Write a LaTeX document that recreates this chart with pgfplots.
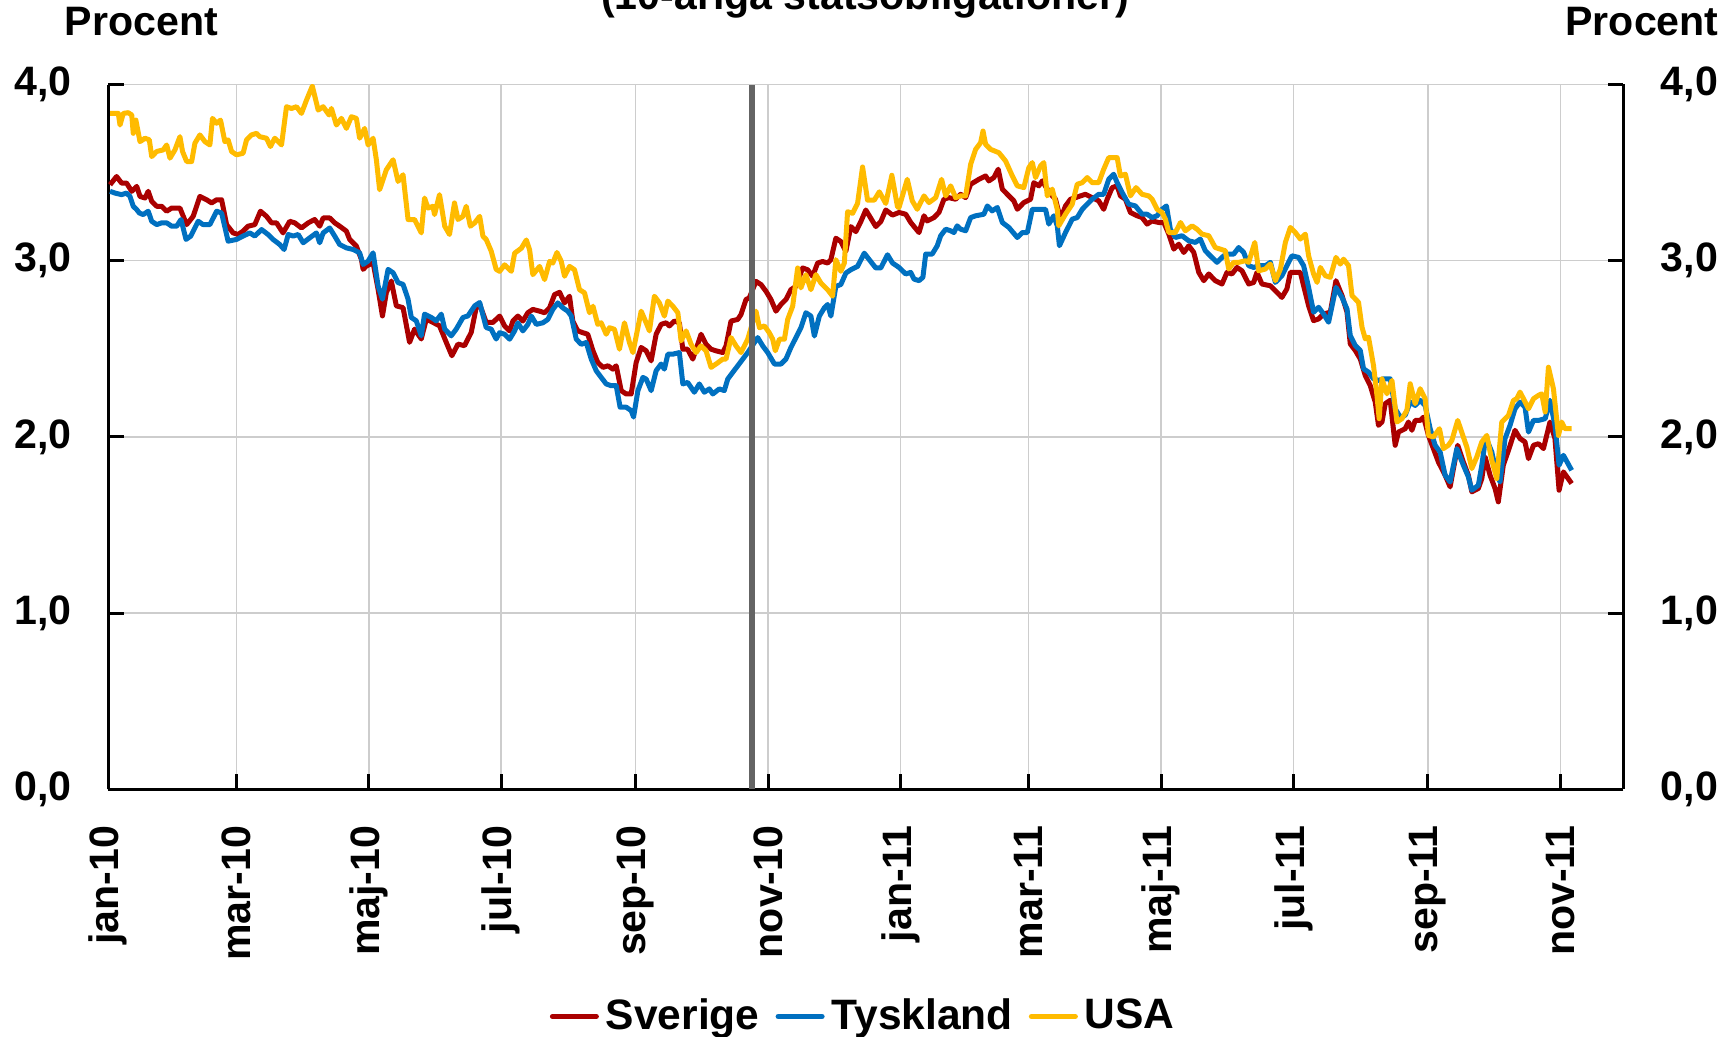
\documentclass[border=0pt]{standalone}
\usepackage{pgfplots}
\pgfplotsset{compat=1.18}
\usepackage{fontspec}
\setmainfont{Liberation Sans}
\definecolor{sred}{RGB}{170,0,0}
\definecolor{sblue}{RGB}{0,112,192}
\definecolor{syellow}{RGB}{255,187,0}
\definecolor{vgray}{RGB}{100,100,100}
\definecolor{gridc}{RGB}{205,205,205}
\newcommand{\cf}{\fontsize{11.7}{14}\selectfont\bfseries}
\newcommand{\lf}{\fontsize{12.1}{14}\selectfont\bfseries}
\begin{document}
\begin{tikzpicture}
\path[use as bounding box] (0,0) rectangle (173.5mm,103.7mm);
\node[font=\cf, anchor=base] at (86.5mm,102.7mm) {(10-åriga statsobligationer)};
\node[font=\cf, anchor=base] at (14.15mm,100.1mm) {Procent};
\node[font=\cf, anchor=base] at (164.2mm,100.1mm) {Procent};
\begin{axis}[
  at={(10.83mm,24.75mm)}, anchor=south west,
  scale only axis, width=151.5mm, height=70.5mm,
  xmin=0, xmax=698, ymin=0, ymax=4,
  axis x line*=bottom, axis y line*=left,
  axis line style={line width=0.3mm, black},
  tick align=inside,
  major tick length=1.55mm,
  every tick/.style={black, line width=0.3mm},
  grid=major,
  major grid style={gridc, line width=0.15mm},
  xtick={0,59,120,181,243,304,365,424,485,546,608,669},
  xticklabels={jan-10,mar-10,maj-10,jul-10,sep-10,nov-10,jan-11,mar-11,maj-11,jul-11,sep-11,nov-11},
  xticklabel style={font=\cf, rotate=90, anchor=east, inner sep=0pt, xshift=-3.55mm},
  ytick={0,1,2,3,4},
  yticklabels={{0,0},{1,0},{2,0},{3,0},{4,0}},
  yticklabel style={font=\cf, anchor=east, inner sep=0pt, xshift=-3.6mm},
  legend style={draw=none, fill=none, at={(axis description cs:0.5,-0.322)}, anchor=center, font=\lf,
    /tikz/every even column/.append style={column sep=0.9mm}},
  legend columns=-1,
  legend image code/.code={\draw[line width=0.5mm, line cap=round] (0.25mm,0mm) -- (4.65mm,0mm);},
  every axis plot/.append style={line width=0.5mm, line join=round},
]
\addplot[sred] coordinates {
(0.8,3.431)(3.8,3.478)(6.1,3.441)(8.4,3.441)(10.8,3.394)(13.1,3.422)(14.6,3.365)(16.9,3.356)(18.4,3.394)(20.0,3.337)(22.3,3.309)(24.6,3.309)(26.9,3.281)(29.2,3.299)(33.0,3.299)(36.1,3.205)(39.1,3.252)(42.2,3.365)(45.3,3.346)(47.6,3.328)(49.9,3.346)(52.2,3.346)(54.5,3.205)(57.5,3.158)(59.8,3.149)(62.1,3.168)(64.4,3.196)(67.5,3.205)(70.1,3.281)(72.9,3.252)(75.2,3.215)(77.5,3.215)(80.5,3.158)(83.6,3.224)(85.9,3.215)(89.0,3.186)(92.1,3.215)(95.1,3.234)(97.4,3.196)(99.0,3.243)(102.0,3.243)(104.3,3.215)(106.6,3.196)(109.7,3.168)(111.2,3.121)(114.3,3.083)(116.6,3.008)(117.4,2.951)(118.9,2.970)(122.0,2.989)(124.3,2.838)(126.3,2.687)(128.1,2.819)(130.4,2.885)(132.7,2.744)(135.8,2.734)(138.8,2.537)(141.1,2.612)(144.2,2.556)(146.5,2.669)(149.6,2.650)(152.6,2.631)(155.7,2.537)(158.3,2.461)(161.1,2.527)(164.1,2.518)(167.2,2.593)(169.5,2.734)(171.1,2.753)(174.1,2.650)(177.2,2.650)
(180.3,2.686)(182.6,2.630)(184.9,2.602)(186.4,2.658)(188.7,2.686)(191.0,2.658)(193.3,2.705)(195.6,2.724)(198.7,2.714)(201.0,2.705)(203.3,2.733)(205.6,2.808)(207.9,2.821)(210.2,2.761)(212.5,2.799)(214.0,2.658)(216.3,2.602)(218.6,2.592)(220.9,2.583)(223.3,2.489)(225.5,2.423)(227.9,2.395)(230.2,2.404)(232.5,2.385)(234.0,2.404)(236.3,2.263)(238.6,2.244)(240.9,2.244)(243.2,2.423)(245.5,2.508)(247.8,2.489)(250.1,2.432)(252.4,2.583)(254.7,2.639)(257.0,2.648)(258.5,2.630)(260.8,2.658)(263.1,2.648)(264.7,2.498)(266.9,2.498)(269.3,2.442)(273.1,2.583)(275.4,2.526)(277.7,2.498)(280.0,2.489)(283.1,2.479)(284.6,2.517)(286.9,2.658)(290.0,2.667)(291.5,2.695)(293.8,2.780)(295.3,2.789)(298.4,2.883)(300.7,2.865)(303.0,2.827)(305.3,2.780)(307.6,2.714)(309.9,2.752)(312.2,2.780)(314.5,2.836)(316.8,2.855)(319.9,2.959)(322.2,2.949)(324.5,2.912)(326.8,2.987)(329.1,2.996)(331.4,2.987)(332.9,3.006)(335.2,3.128)(337.5,3.109)(339.8,3.053)(342.1,3.194)(344.4,3.165)(346.7,3.222)(349.0,3.288)(351.3,3.241)(353.6,3.194)(355.9,3.222)(358.2,3.288)(361.3,3.259)
(364.3,3.274)(367.4,3.264)(369.7,3.217)(373.5,3.160)(375.8,3.255)(377.3,3.226)(380.4,3.245)(382.7,3.274)(385.0,3.349)(387.3,3.358)(390.4,3.349)(392.7,3.377)(395.0,3.358)(397.3,3.434)(401.1,3.462)(404.2,3.481)(405.7,3.453)(408.0,3.472)(410.0,3.519)(411.9,3.406)(414.9,3.368)(417.2,3.340)(418.8,3.292)(421.8,3.330)(424.9,3.349)(426.4,3.443)(428.7,3.425)(430.3,3.453)(432.6,3.406)(434.9,3.368)(436.4,3.349)(438.7,3.236)(441.0,3.311)(443.3,3.349)(445.6,3.358)(447.9,3.368)(450.2,3.377)(453.3,3.358)(456.3,3.340)(458.6,3.292)(460.2,3.349)(462.5,3.415)(464.8,3.425)(466.3,3.368)(468.6,3.349)(470.9,3.274)(474.0,3.255)(476.3,3.245)(478.6,3.208)(480.9,3.226)(483.9,3.217)(486.3,3.217)(488.6,3.151)(490.9,3.066)(493.2,3.094)(495.5,3.047)(497.8,3.085)(500.1,3.047)(502.4,2.934)(504.7,2.887)(507.0,2.925)(510.0,2.887)(513.1,2.868)(515.4,2.934)(517.7,2.925)(520.0,2.962)(522.3,2.943)
(525.4,2.868)(527.7,2.877)(529.2,2.934)(531.5,2.868)(535.4,2.858)(538.4,2.821)(540.7,2.792)(543.0,2.840)(544.6,2.934)(549.2,2.934)(550.7,2.858)(553.0,2.745)(555.3,2.660)(557.6,2.670)(559.9,2.698)(563.0,2.708)(565.6,2.887)(568.4,2.802)(570.7,2.708)(572.2,2.528)(574.5,2.491)(576.8,2.443)(579.1,2.349)(581.4,2.292)(583.7,2.198)(585.2,2.066)(586.8,2.085)(588.3,2.189)(590.6,2.208)(592.9,1.953)(594.4,2.028)(597.5,2.047)(599.0,2.085)(600.6,2.038)(602.1,2.094)(604.4,2.094)(606.0,2.113)(608.2,2.009)(610.5,1.934)(612.8,1.858)(615.9,1.783)(618.2,1.717)(621.7,1.953)(624.3,1.858)(626.6,1.783)(628.2,1.689)(631.2,1.708)(632.8,1.764)(634.3,1.887)(636.6,1.783)(638.9,1.708)(640.4,1.632)(642.7,1.840)(645.1,1.925)(648.1,2.038)(650.4,1.991)(652.7,1.972)(654.3,1.877)(656.6,1.953)(658.9,1.962)(661.2,1.934)(664.2,2.085)(666.5,1.991)(668.4,1.698)(670.4,1.802)(674.2,1.736)
};
\addlegendentry{Sverige}
\addplot[sblue] coordinates {
(0.8,3.394)(3.1,3.384)(6.1,3.375)(8.4,3.384)(10.0,3.365)(11.5,3.309)(13.1,3.290)(14.3,3.271)(16.1,3.262)(18.4,3.281)(20.0,3.224)(22.3,3.205)(24.6,3.215)(26.9,3.215)(29.2,3.196)(31.5,3.196)(33.5,3.234)(35.8,3.121)(38.0,3.140)(41.4,3.224)(43.7,3.205)(46.8,3.205)(49.9,3.281)(52.2,3.271)(55.2,3.111)(59.1,3.121)(62.1,3.140)(65.2,3.158)(67.5,3.140)(70.6,3.177)(73.6,3.149)(75.9,3.121)(79.0,3.092)(81.0,3.064)(82.9,3.149)(85.2,3.140)(87.5,3.149)(89.8,3.102)(92.8,3.130)(95.9,3.158)(97.4,3.102)(99.0,3.158)(102.0,3.186)(104.3,3.140)(106.6,3.092)(109.7,3.073)(112.8,3.064)(115.8,3.045)(117.4,2.979)(119.7,2.998)(122.0,3.045)(124.3,2.857)(126.3,2.782)(128.9,2.951)(131.2,2.932)(133.5,2.876)(135.8,2.866)(138.1,2.782)(139.6,2.678)(141.9,2.659)(144.2,2.574)(145.7,2.697)(148.8,2.678)(151.1,2.659)(153.4,2.697)(155.0,2.612)(158.0,2.574)(160.3,2.612)(163.4,2.678)(165.7,2.687)(168.8,2.744)(171.1,2.763)(174.1,2.621)(176.4,2.612)(178.7,2.556)
(180.3,2.592)(182.6,2.583)(184.9,2.555)(187.2,2.602)(188.7,2.648)(191.0,2.602)(193.3,2.639)(194.9,2.686)(197.2,2.639)(200.2,2.648)(202.5,2.667)(204.8,2.724)(207.1,2.761)(209.4,2.733)(211.7,2.714)(213.3,2.686)(215.6,2.555)(217.9,2.526)(220.2,2.536)(222.5,2.442)(224.8,2.376)(227.1,2.338)(229.4,2.301)(231.7,2.291)(234.0,2.291)(235.8,2.169)(238.6,2.169)(240.9,2.150)(242.0,2.113)(244.0,2.263)(246.3,2.338)(247.8,2.329)(250.1,2.263)(252.4,2.376)(254.7,2.414)(256.2,2.385)(257.8,2.470)(260.1,2.470)(263.1,2.479)(264.7,2.301)(266.9,2.310)(270.0,2.254)(272.3,2.301)(274.6,2.254)(276.9,2.273)(278.5,2.244)(281.5,2.273)(283.8,2.263)(285.4,2.329)(287.7,2.367)(290.0,2.404)(292.3,2.442)(294.6,2.479)(299.2,2.564)(301.5,2.517)(303.8,2.479)(306.9,2.414)(309.9,2.414)(312.2,2.442)(314.5,2.508)(316.8,2.564)(319.1,2.620)(321.4,2.705)(323.7,2.686)(325.3,2.573)(327.6,2.686)(329.9,2.733)(331.4,2.752)(332.9,2.686)(335.2,2.855)(337.5,2.865)(339.8,2.930)(342.1,2.949)(345.2,2.968)(348.3,3.043)(350.6,3.006)(353.6,2.959)(355.9,2.959)(359.0,3.034)(361.3,2.987)
(364.3,2.962)(367.4,2.925)(369.7,2.934)(371.2,2.896)(373.5,2.887)(375.3,2.906)(376.6,3.038)(379.6,3.038)(381.9,3.085)(383.5,3.142)(385.8,3.179)(388.1,3.170)(389.6,3.160)(391.1,3.198)(392.7,3.179)(395.0,3.170)(397.3,3.245)(399.6,3.255)(403.4,3.264)(405.0,3.311)(407.2,3.283)(409.6,3.302)(411.9,3.217)(414.9,3.189)(418.8,3.132)(421.1,3.160)(423.4,3.160)(425.7,3.292)(428.7,3.292)(431.8,3.292)(433.3,3.208)(435.6,3.255)(437.2,3.198)(438.2,3.085)(441.0,3.160)(444.1,3.236)(446.4,3.245)(448.7,3.292)(451.0,3.321)(453.3,3.349)(456.3,3.377)(458.6,3.377)(460.9,3.462)(463.2,3.491)(464.8,3.443)(467.1,3.387)(470.1,3.321)(473.2,3.311)(476.3,3.264)(478.6,3.264)(480.9,3.245)(483.2,3.255)(485.5,3.292)(487.5,3.311)(489.3,3.179)(491.6,3.132)(494.7,3.142)(497.8,3.113)(500.8,3.104)(503.1,3.123)(505.4,3.057)(507.7,3.028)(510.8,2.991)(513.9,3.028)(516.2,3.038)(518.5,3.038)(520.8,3.075)(523.1,3.047)
(525.4,2.972)(527.7,2.962)(530.0,2.972)(533.1,2.972)(535.4,2.991)(537.7,2.877)(540.7,2.915)(543.0,2.972)(545.3,3.028)(548.4,3.019)(550.7,2.972)(553.0,2.849)(555.3,2.708)(557.6,2.736)(559.9,2.698)(562.2,2.651)(565.6,2.849)(568.4,2.792)(570.7,2.726)(572.2,2.575)(574.5,2.519)(576.8,2.491)(578.3,2.387)(580.6,2.368)(582.9,2.330)(585.2,2.321)(587.5,2.330)(590.6,2.330)(592.9,2.160)(595.2,2.113)(597.5,2.123)(599.8,2.198)(602.1,2.179)(604.4,2.208)(606.7,2.179)(609.0,2.047)(611.3,1.953)(613.6,1.915)(615.9,1.783)(618.2,1.745)(621.3,1.934)(624.3,1.840)(626.6,1.774)(628.2,1.698)(631.2,1.726)(632.8,1.840)(634.6,2.000)(637.4,1.915)(639.7,1.783)(641.2,1.745)(643.5,1.991)(645.8,2.066)(648.1,2.160)(650.4,2.198)(652.7,2.170)(654.3,2.028)(656.6,2.094)(658.9,2.094)(662.0,2.104)(664.2,2.208)(666.5,2.066)(668.4,1.840)(670.4,1.896)(674.2,1.811)
};
\addlegendentry{Tyskland}
\addplot[syellow] coordinates {
(0.8,3.836)(4.6,3.836)(5.4,3.770)(6.9,3.836)(9.2,3.840)(10.8,3.827)(11.5,3.723)(12.7,3.798)(14.6,3.676)(16.9,3.695)(18.9,3.686)(20.0,3.591)(22.3,3.620)(25.3,3.629)(26.9,3.657)(28.4,3.582)(30.7,3.629)(33.0,3.704)(34.2,3.620)(36.1,3.563)(38.4,3.563)(39.9,3.667)(42.2,3.714)(44.5,3.676)(46.8,3.657)(48.0,3.808)(49.9,3.780)(51.7,3.798)(53.7,3.676)(55.2,3.686)(56.8,3.620)(59.1,3.601)(62.1,3.610)(63.7,3.686)(66.0,3.714)(68.3,3.723)(69.8,3.704)(72.9,3.695)(74.7,3.648)(76.7,3.695)(79.8,3.657)(82.1,3.874)(84.4,3.864)(86.7,3.874)(89.0,3.836)(91.3,3.911)(94.0,3.991)(96.7,3.855)(99.0,3.874)(101.7,3.827)(102.8,3.864)(105.1,3.770)(107.4,3.808)(109.7,3.751)(112.0,3.817)(114.3,3.808)(115.8,3.695)(118.1,3.751)(119.7,3.657)(122.0,3.695)(123.5,3.573)(125.0,3.403)(128.1,3.516)(131.2,3.573)(133.5,3.450)(135.8,3.488)(138.1,3.234)(141.1,3.234)(144.2,3.158)(145.7,3.356)(147.3,3.299)(149.6,3.309)(150.3,3.262)(152.6,3.375)(155.0,3.196)(157.2,3.149)(159.5,3.328)(161.1,3.234)(163.4,3.252)(164.9,3.309)(166.8,3.196)(168.8,3.215)(171.1,3.252)(172.6,3.139)(174.1,3.121)(176.4,3.055)(178.7,2.951)
(180.3,2.940)(182.6,2.977)(185.7,2.940)(187.2,3.043)(190.3,3.071)(192.6,3.118)(194.1,3.062)(195.6,2.921)(198.7,2.968)(201.0,2.893)(203.3,2.996)(204.8,2.987)(206.7,3.047)(208.7,2.996)(210.2,2.912)(212.5,2.968)(214.8,2.949)(217.1,2.836)(219.4,2.818)(221.7,2.705)(223.3,2.742)(225.5,2.639)(227.1,2.648)(229.4,2.583)(230.9,2.620)(233.2,2.611)(235.5,2.498)(237.8,2.648)(240.1,2.536)(241.7,2.479)(245.5,2.714)(247.8,2.648)(249.3,2.602)(251.6,2.799)(253.9,2.761)(256.2,2.686)(257.8,2.771)(260.1,2.742)(262.4,2.705)(263.9,2.545)(266.2,2.602)(268.5,2.526)(270.8,2.479)(273.1,2.517)(275.4,2.489)(277.7,2.395)(280.0,2.414)(283.1,2.442)(284.6,2.442)(286.9,2.564)(289.2,2.517)(291.5,2.479)(294.6,2.555)(298.4,2.714)(300.0,2.620)(302.3,2.630)(304.5,2.592)(306.1,2.555)(307.3,2.489)(309.2,2.555)(311.5,2.555)(313.0,2.667)(315.3,2.742)(317.6,2.959)(319.1,2.846)(321.4,2.921)(323.7,2.836)(326.0,2.921)(328.3,2.874)(331.4,2.836)(333.7,2.799)(335.2,3.006)(337.5,2.940)(339.1,2.987)(340.6,3.278)(342.9,3.269)(345.2,3.325)(347.5,3.532)(349.8,3.344)(352.9,3.344)(355.2,3.391)(358.2,3.325)(361.0,3.485)(363.6,3.306)
(364.3,3.302)(368.1,3.462)(370.4,3.340)(372.7,3.292)(375.8,3.368)(378.1,3.330)(381.2,3.358)(383.9,3.462)(385.8,3.368)(388.1,3.425)(390.4,3.358)(392.7,3.368)(395.0,3.368)(397.3,3.547)(399.6,3.632)(401.9,3.670)(403.0,3.736)(404.2,3.660)(406.5,3.632)(410.3,3.613)(413.4,3.566)(416.5,3.481)(418.8,3.425)(421.8,3.415)(424.1,3.528)(425.7,3.557)(427.2,3.472)(429.5,3.538)(431.0,3.557)(432.6,3.368)(434.9,3.406)(437.2,3.292)(437.9,3.198)(441.0,3.264)(444.1,3.321)(446.4,3.434)(448.7,3.443)(451.0,3.472)(453.3,3.443)(456.3,3.443)(458.6,3.519)(460.9,3.585)(462.5,3.585)(464.8,3.585)(466.3,3.481)(468.6,3.491)(470.9,3.368)(473.5,3.415)(476.3,3.377)(479.3,3.368)(480.9,3.349)(483.2,3.292)(485.5,3.274)(487.0,3.236)(488.6,3.160)(491.6,3.160)(494.0,3.217)(496.2,3.170)(499.3,3.198)(501.6,3.179)(503.9,3.151)(507.0,3.142)(510.0,3.075)(512.3,3.066)(514.6,3.057)(516.2,2.953)(518.5,2.991)(520.8,2.991)(523.8,3.000)
(525.4,2.991)(528.2,3.104)(530.0,2.943)(533.1,2.953)(535.4,2.981)(537.7,2.887)(540.0,2.953)(542.3,3.104)(544.6,3.189)(546.9,3.160)(549.2,3.123)(551.5,3.151)(553.0,3.028)(555.3,2.925)(556.9,2.877)(558.4,2.962)(560.7,2.915)(563.0,2.906)(565.6,3.019)(567.6,2.981)(569.1,3.009)(571.4,2.972)(573.0,2.802)(576.0,2.764)(577.6,2.623)(579.1,2.557)(580.6,2.566)(582.9,2.406)(584.5,2.236)(585.5,2.104)(586.8,2.330)(589.1,2.245)(591.4,2.321)(593.7,2.085)(596.0,2.104)(598.3,2.151)(599.8,2.302)(602.1,2.189)(604.4,2.274)(606.7,2.217)(608.2,2.009)(610.5,2.000)(613.3,2.047)(615.1,1.934)(617.4,1.953)(619.0,1.981)(621.7,2.094)(624.3,2.000)(625.9,1.943)(628.2,1.821)(630.5,1.887)(632.8,1.972)(635.1,2.009)(637.4,1.868)(639.7,1.764)(642.0,2.085)(645.1,2.123)(647.4,2.208)(648.9,2.217)(650.4,2.255)(652.0,2.217)(654.3,2.160)(656.6,2.217)(658.9,2.236)(660.4,2.245)(662.0,2.142)(663.5,2.396)(665.8,2.274)(668.1,2.009)(669.6,2.085)(671.1,2.047)(674.2,2.047)
};
\addlegendentry{USA}
\addplot[forget plot, vgray, line width=0.6mm] coordinates {(296.5,0) (296.5,4)};
\end{axis}
\begin{axis}[
  at={(10.83mm,24.75mm)}, anchor=south west,
  scale only axis, width=151.5mm, height=70.5mm,
  xmin=0, xmax=698, ymin=0, ymax=4,
  axis x line=none, axis y line*=right,
  axis line style={line width=0.3mm, black},
  tick align=inside,
  major tick length=1.55mm,
  every tick/.style={black, line width=0.3mm},
  ytick={0,1,2,3,4},
  yticklabels={{0,0},{1,0},{2,0},{3,0},{4,0}},
  yticklabel style={font=\cf, anchor=west, inner sep=0pt, xshift=3.67mm},
]
\end{axis}
\end{tikzpicture}
\end{document}
